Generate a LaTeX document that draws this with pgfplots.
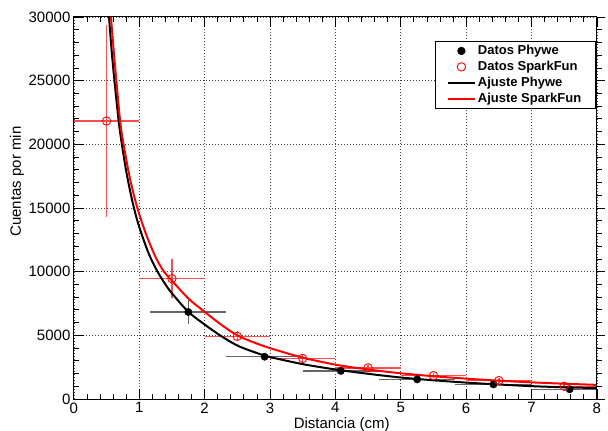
\documentclass[border=0pt]{standalone}
\usepackage{fontspec}
\setmainfont{Liberation Sans}
\usepackage{pgfplots}
\usepackage{pgfplotstable}
\pgfplotsset{compat=1.18}
\pgfplotsset{
  markleg/.style={legend image code/.code={\draw[##1] plot coordinates {(13.5pt,0pt)}; \path (0pt,0pt) (27pt,0pt);}},
  lineleg/.style={legend image code/.code={\draw[##1] (0pt,0pt) -- (27pt,0pt);}},
}

% datos medidos: x, y, error x, error y
\pgfplotstableread{
x      y      ex     ey
1.750  6835   0.583  950
2.917  3324   0.583  250
4.083  2207   0.583  200
5.250  1543   0.583  150
6.417  1150   0.583  130
7.583   765   0.583  110
}\phywe
\pgfplotstableread{
x    y      ex   ey
0.5  21830  0.5  7520
1.5   9450  0.5  1550
2.5   4920  0.5   400
3.5   3191  0.5   320
4.5   2447  0.5   250
5.5   1835  0.5   220
6.5   1450  0.5   190
7.5   1000  0.5   160
}\sparkfun

\begin{document}
\begin{tikzpicture}
\begin{axis}[
    name=ax,
    scale only axis, width=523pt, height=382pt,
    xmin=0, xmax=8, ymin=0, ymax=30000,
    xtick={0,1,...,8}, ytick={0,5000,...,30000},
    minor x tick num=4, minor y tick num=4,
    xtick pos=both, ytick pos=left,
    tick align=inside,
    major tick length=10pt, minor tick length=5pt,
    tick style={black, line width=0.8pt},
    axis line style={line width=1pt},
    grid=major,
    major grid style={black!75, line width=0.7pt, dash pattern=on 1pt off 2pt},
    scaled y ticks=false,
    /pgf/number format/set thousands separator={},
    /pgf/number format/assume math mode=true,
    tick label style={font=\fontsize{15}{18}\selectfont},
    xlabel={Distancia (cm)},
    ylabel={Cuentas por min},
    label style={font=\fontsize{15}{18}\selectfont},
    xlabel style={at={(rel axis cs:0.512,-0.0772)}, anchor=base},
    ylabel style={at={(rel axis cs:-0.1088,0.569)}, anchor=center},
    legend style={at={(rel axis cs:0.9975,0.937)}, anchor=north east,
        draw=black, line width=0.8pt, fill=white,
        font=\fontsize{13}{15}\selectfont\bfseries,
        inner xsep=12pt, inner ysep=2pt, row sep=1pt,
        /tikz/every even column/.append style={column sep=16pt}},
    legend cell align=left,
]
\addplot[only marks, mark=*, mark size=3.7pt, black, markleg,
    error bars/.cd, x dir=both, x explicit, y dir=both, y explicit,
    error mark=none, error bar style={black!60, line width=1.5pt}]
    table[x=x, y=y, x error=ex, y error=ey] {\phywe};
\addlegendentry{Datos Phywe}
\addplot[only marks, mark=o, mark size=4.2pt, red, markleg,
    mark options={fill=white, line width=0.9pt},
    error bars/.cd, x dir=both, x explicit, y dir=both, y explicit,
    error mark=none, error bar style={red!70, line width=1.5pt}]
    table[x=x, y=y, x error=ex, y error=ey] {\sparkfun};
\addlegendentry{Datos SparkFun}
% ajustes
\addplot[black, line width=2pt, smooth, lineleg] coordinates {
(0.537,30000)(0.58,27200)(0.63,24500)(0.7,21200)(0.8,17900)(0.9,15400)
(1.0,13500)(1.15,11350)(1.28,10000)(1.4,9000)(1.5,8300)(1.75,6850)
(2.0,5850)(2.25,4950)(2.5,4200)(2.75,3700)(3.0,3300)(3.5,2740)
(4.0,2320)(4.5,1980)(5.0,1690)(5.5,1470)(6.0,1290)(6.5,1140)
(7.0,1010)(7.5,920)(8.0,860)};
\addlegendentry{Ajuste Phywe}
\addplot[red, line width=2pt, smooth, lineleg] coordinates {
(0.567,30000)(0.6,27900)(0.644,25300)(0.7,22200)(0.74,20600)(0.85,17500)
(0.96,15200)(1.1,13000)(1.25,11150)(1.378,10000)(1.5,9300)(1.75,7900)
(2.0,6850)(2.25,5850)(2.5,5000)(2.75,4450)(3.0,4000)(3.5,3250)
(4.0,2700)(4.5,2320)(5.0,2020)(5.5,1790)(6.0,1600)(6.5,1440)
(7.0,1310)(7.5,1200)(8.0,1110)};
\addlegendentry{Ajuste SparkFun}
\coordinate (bl) at (rel axis cs:-0.1413,-0.08115);
\coordinate (tr) at (rel axis cs:1.0212,1.0445);
\end{axis}
% marcas del eje derecho hacia afuera
\begin{axis}[
    scale only axis, width=523pt, height=382pt,
    xmin=0, xmax=8, ymin=0, ymax=30000,
    hide x axis, axis y line*=right,
    scaled y ticks=false,
    ytick={0,5000,...,30000}, yticklabels={},
    minor y tick num=4, tick align=outside,
    major tick length=8pt, minor tick length=5pt,
    tick style={black, line width=0.8pt},
    axis line style={line width=1pt},
]
\end{axis}
\pgfresetboundingbox
\useasboundingbox (bl) rectangle (tr);
\end{tikzpicture}
\end{document}
